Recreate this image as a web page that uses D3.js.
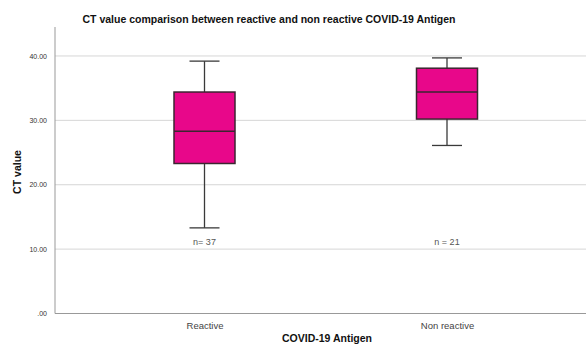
<!DOCTYPE html>
<html>
<head>
<meta charset="utf-8">
<script src="https://cdn.jsdelivr.net/npm/d3@7"></script>
<style>
  body { margin: 0; background: #fff; }
  text { font-family: "Liberation Sans", Arial, sans-serif; }
</style>
</head>
<body>
<div class="chart"></div>
<script>
// box plot values
var groups = ["Reactive", "Non reactive"];
var whiskerLow = [13.3, 26.1];
var q1 = [23.3, 30.2];
var median = [28.3, 34.4];
var q3 = [34.4, 38.1];
var whiskerHigh = [39.2, 39.7];
var counts = ["n= 37", "n = 21"];
var yTicks = [0, 10, 20, 30, 40];

var svgWidth = 586;
var svgHeight = 354;

var svg = d3.select(".chart")
  .append("svg")
  .attr("width", svgWidth)
  .attr("height", svgHeight);

// plot edges (note: "top" is reserved on window, so use plotTop)
var plotLeft = 55, plotRight = 586, plotTop = 27, plotBottom = 313.5;

var yScale = d3.scaleLinear()
  .domain([0, 44.5])
  .range([plotBottom, plotTop]);

var xScale = d3.scalePoint()
  .domain(groups)
  .range([204.5, 447]);

// grid lines
svg.append("g")
  .selectAll("line")
  .data(yTicks.slice(1))
  .enter()
  .append("line")
  .attr("x1", plotLeft)
  .attr("x2", plotRight)
  .attr("y1", d => yScale(d))
  .attr("y2", d => yScale(d))
  .attr("stroke", "#d6d6d6")
  .attr("stroke-width", 1);

// y axis
var leftAxis = d3.axisLeft(yScale)
  .tickValues(yTicks)
  .tickSize(0)
  .tickPadding(8)
  .tickFormat(d => d === 0 ? ".00" : d3.format(".2f")(d));

var yAxis = svg.append("g")
  .attr("transform", `translate(${plotLeft}, 0)`)
  .call(leftAxis);
yAxis.select(".domain").remove();
yAxis.selectAll("text")
  .style("font-size", "7px")
  .style("fill", "#333");

// x axis
var bottomAxis = d3.axisBottom(xScale)
  .tickSize(0)
  .tickPadding(9);
var xAxis = svg.append("g")
  .attr("transform", `translate(0, ${plotBottom})`)
  .call(bottomAxis);
xAxis.select(".domain").remove();
xAxis.selectAll("text")
  .style("font-size", "9.5px")
  .style("fill", "#444");

// frame lines
svg.append("line")
  .attr("x1", plotLeft).attr("x2", plotLeft)
  .attr("y1", plotTop).attr("y2", plotBottom)
  .attr("stroke", "#999").attr("stroke-width", 1);
svg.append("line")
  .attr("x1", plotLeft).attr("x2", plotRight)
  .attr("y1", plotBottom).attr("y2", plotBottom)
  .attr("stroke", "#999").attr("stroke-width", 1);

var boxW = 61, capW = 30;
var boxes = svg.append("g")
  .selectAll("g")
  .data(groups)
  .enter()
  .append("g");

// whiskers
boxes.append("line")
  .attr("x1", d => xScale(d)).attr("x2", d => xScale(d))
  .attr("y1", (d, i) => yScale(whiskerLow[i]))
  .attr("y2", (d, i) => yScale(whiskerHigh[i]))
  .attr("stroke", "#3a3a3a").attr("stroke-width", 1.3);
boxes.append("line")
  .attr("x1", d => xScale(d) - capW / 2).attr("x2", d => xScale(d) + capW / 2)
  .attr("y1", (d, i) => yScale(whiskerLow[i]))
  .attr("y2", (d, i) => yScale(whiskerLow[i]))
  .attr("stroke", "#3a3a3a").attr("stroke-width", 1.3);
boxes.append("line")
  .attr("x1", d => xScale(d) - capW / 2).attr("x2", d => xScale(d) + capW / 2)
  .attr("y1", (d, i) => yScale(whiskerHigh[i]))
  .attr("y2", (d, i) => yScale(whiskerHigh[i]))
  .attr("stroke", "#3a3a3a").attr("stroke-width", 1.3);

// box
boxes.append("rect")
  .attr("x", d => xScale(d) - boxW / 2)
  .attr("width", boxW)
  .attr("y", (d, i) => yScale(q3[i]))
  .attr("height", (d, i) => yScale(q1[i]) - yScale(q3[i]))
  .attr("fill", "#e8078a")
  .attr("stroke", "#3b2630")
  .attr("stroke-width", 1.5);

// median
boxes.append("line")
  .attr("x1", d => xScale(d) - boxW / 2).attr("x2", d => xScale(d) + boxW / 2)
  .attr("y1", (d, i) => yScale(median[i]))
  .attr("y2", (d, i) => yScale(median[i]))
  .attr("stroke", "#3b2630").attr("stroke-width", 1.5);

// n labels
boxes.append("text")
  .attr("x", d => xScale(d))
  .attr("y", 245)
  .attr("text-anchor", "middle")
  .style("font-size", "9px")
  .style("fill", "#555")
  .text((d, i) => counts[i]);

// titles
svg.append("text")
  .attr("x", 269)
  .attr("y", 23)
  .attr("text-anchor", "middle")
  .style("font-size", "10.5px")
  .style("font-weight", "bold")
  .style("fill", "#111")
  .text("CT value comparison between reactive and non reactive COVID-19 Antigen");

svg.append("text")
  .attr("x", 327)
  .attr("y", 342)
  .attr("text-anchor", "middle")
  .style("font-size", "10.5px")
  .style("font-weight", "bold")
  .style("fill", "#111")
  .text("COVID-19 Antigen");

svg.append("text")
  .attr("transform", "rotate(-90)")
  .attr("x", -172)
  .attr("y", 21)
  .attr("text-anchor", "middle")
  .style("font-size", "10.5px")
  .style("font-weight", "bold")
  .style("fill", "#111")
  .text("CT value");
</script>
</body>
</html>
